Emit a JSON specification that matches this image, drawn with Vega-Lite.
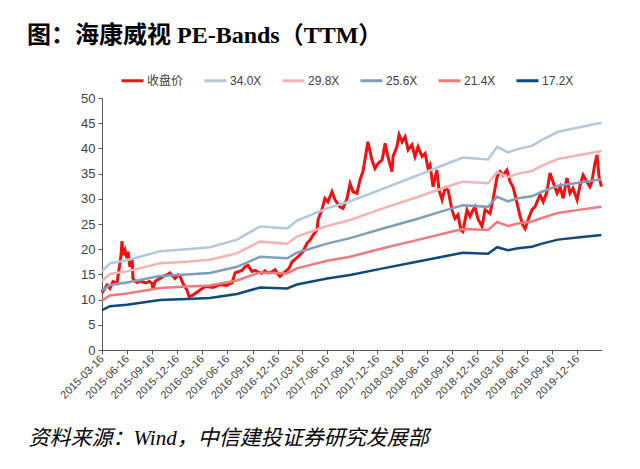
{
  "$schema": "https://vega.github.io/schema/vega-lite/v6.json",
  "width": 500,
  "height": 252,
  "autosize": {"type": "none"},
  "padding": {"left": 102, "top": 98, "right": 38, "bottom": 119},
  "background": "white",
  "title": {
    "text": "图：海康威视 PE-Bands（TTM）",
    "anchor": "start",
    "frame": "group",
    "dx": -75,
    "dy": -16,
    "fontSize": 24,
    "font": "Liberation Serif, Noto Sans CJK SC",
    "fontWeight": "bold",
    "color": "#000000"
  },
  "datasets": {
    "price": [
      {"date": "2015-03-16", "series": "收盘价", "value": 12.0},
      {"date": "2015-03-19", "series": "收盘价", "value": 11.6},
      {"date": "2015-04-03", "series": "收盘价", "value": 12.9},
      {"date": "2015-04-14", "series": "收盘价", "value": 12.2},
      {"date": "2015-04-25", "series": "收盘价", "value": 13.6},
      {"date": "2015-05-10", "series": "收盘价", "value": 13.2},
      {"date": "2015-05-13", "series": "收盘价", "value": 14.5},
      {"date": "2015-05-24", "series": "收盘价", "value": 18.5},
      {"date": "2015-05-28", "series": "收盘价", "value": 21.6},
      {"date": "2015-06-01", "series": "收盘价", "value": 18.8},
      {"date": "2015-06-08", "series": "收盘价", "value": 19.8},
      {"date": "2015-06-15", "series": "收盘价", "value": 18.2},
      {"date": "2015-06-19", "series": "收盘价", "value": 19.5},
      {"date": "2015-06-26", "series": "收盘价", "value": 16.5},
      {"date": "2015-07-04", "series": "收盘价", "value": 18.2},
      {"date": "2015-07-07", "series": "收盘价", "value": 14.2},
      {"date": "2015-07-15", "series": "收盘价", "value": 13.6},
      {"date": "2015-07-22", "series": "收盘价", "value": 13.4},
      {"date": "2015-08-02", "series": "收盘价", "value": 13.7},
      {"date": "2015-08-13", "series": "收盘价", "value": 13.5},
      {"date": "2015-08-24", "series": "收盘价", "value": 13.3},
      {"date": "2015-09-04", "series": "收盘价", "value": 13.6},
      {"date": "2015-09-15", "series": "收盘价", "value": 13.2},
      {"date": "2015-09-18", "series": "收盘价", "value": 12.0},
      {"date": "2015-09-26", "series": "收盘价", "value": 13.6},
      {"date": "2015-10-03", "series": "收盘价", "value": 13.9},
      {"date": "2015-10-14", "series": "收盘价", "value": 14.2},
      {"date": "2015-10-25", "series": "收盘价", "value": 14.6},
      {"date": "2015-11-08", "series": "收盘价", "value": 14.9},
      {"date": "2015-11-19", "series": "收盘价", "value": 15.3},
      {"date": "2015-11-27", "series": "收盘价", "value": 14.8},
      {"date": "2015-12-08", "series": "收盘价", "value": 14.2},
      {"date": "2015-12-19", "series": "收盘价", "value": 14.9},
      {"date": "2015-12-26", "series": "收盘价", "value": 14.6},
      {"date": "2016-01-06", "series": "收盘价", "value": 13.2},
      {"date": "2016-01-20", "series": "收盘价", "value": 11.9},
      {"date": "2016-01-28", "series": "收盘价", "value": 10.6},
      {"date": "2016-02-11", "series": "收盘价", "value": 10.9},
      {"date": "2016-03-01", "series": "收盘价", "value": 11.6},
      {"date": "2016-03-08", "series": "收盘价", "value": 11.9},
      {"date": "2016-03-19", "series": "收盘价", "value": 12.3},
      {"date": "2016-03-30", "series": "收盘价", "value": 12.6},
      {"date": "2016-04-13", "series": "收盘价", "value": 12.5},
      {"date": "2016-04-24", "series": "收盘价", "value": 12.4},
      {"date": "2016-05-09", "series": "收盘价", "value": 12.7},
      {"date": "2016-05-20", "series": "收盘价", "value": 13.0},
      {"date": "2016-05-31", "series": "收盘价", "value": 12.9},
      {"date": "2016-06-14", "series": "收盘价", "value": 12.8},
      {"date": "2016-06-25", "series": "收盘价", "value": 13.2},
      {"date": "2016-07-03", "series": "收盘价", "value": 13.3},
      {"date": "2016-07-14", "series": "收盘价", "value": 15.3},
      {"date": "2016-08-08", "series": "收盘价", "value": 15.8},
      {"date": "2016-08-19", "series": "收盘价", "value": 16.5},
      {"date": "2016-08-30", "series": "收盘价", "value": 16.8},
      {"date": "2016-09-06", "series": "收盘价", "value": 16.2},
      {"date": "2016-09-14", "series": "收盘价", "value": 15.6},
      {"date": "2016-09-25", "series": "收盘价", "value": 15.8},
      {"date": "2016-10-06", "series": "收盘价", "value": 15.5},
      {"date": "2016-10-20", "series": "收盘价", "value": 15.2},
      {"date": "2016-10-31", "series": "收盘价", "value": 15.7},
      {"date": "2016-11-11", "series": "收盘价", "value": 15.3},
      {"date": "2016-11-22", "series": "收盘价", "value": 15.4},
      {"date": "2016-12-07", "series": "收盘价", "value": 15.9},
      {"date": "2016-12-18", "series": "收盘价", "value": 15.0},
      {"date": "2016-12-25", "series": "收盘价", "value": 14.6},
      {"date": "2017-01-05", "series": "收盘价", "value": 15.2},
      {"date": "2017-01-12", "series": "收盘价", "value": 15.5},
      {"date": "2017-01-27", "series": "收盘价", "value": 16.2},
      {"date": "2017-02-07", "series": "收盘价", "value": 17.5},
      {"date": "2017-02-18", "series": "收盘价", "value": 18.0},
      {"date": "2017-03-01", "series": "收盘价", "value": 18.5},
      {"date": "2017-03-19", "series": "收盘价", "value": 19.5},
      {"date": "2017-04-03", "series": "收盘价", "value": 21.2},
      {"date": "2017-04-14", "series": "收盘价", "value": 21.8},
      {"date": "2017-04-25", "series": "收盘价", "value": 22.8},
      {"date": "2017-05-09", "series": "收盘价", "value": 23.8},
      {"date": "2017-05-13", "series": "收盘价", "value": 25.8},
      {"date": "2017-05-27", "series": "收盘价", "value": 27.8},
      {"date": "2017-06-07", "series": "收盘价", "value": 30.1},
      {"date": "2017-06-18", "series": "收盘价", "value": 29.4},
      {"date": "2017-07-03", "series": "收盘价", "value": 31.4},
      {"date": "2017-07-14", "series": "收盘价", "value": 29.8},
      {"date": "2017-08-01", "series": "收盘价", "value": 28.4},
      {"date": "2017-08-12", "series": "收盘价", "value": 28.1},
      {"date": "2017-08-27", "series": "收盘价", "value": 30.1},
      {"date": "2017-09-07", "series": "收盘价", "value": 33.0},
      {"date": "2017-09-18", "series": "收盘价", "value": 31.4},
      {"date": "2017-10-02", "series": "收盘价", "value": 31.1},
      {"date": "2017-10-13", "series": "收盘价", "value": 33.7},
      {"date": "2017-10-24", "series": "收盘价", "value": 35.4},
      {"date": "2017-11-08", "series": "收盘价", "value": 40.3},
      {"date": "2017-11-11", "series": "收盘价", "value": 41.3},
      {"date": "2017-11-26", "series": "收盘价", "value": 37.7},
      {"date": "2017-12-07", "series": "收盘价", "value": 36.0},
      {"date": "2017-12-18", "series": "收盘价", "value": 37.0},
      {"date": "2018-01-02", "series": "收盘价", "value": 37.7},
      {"date": "2018-01-13", "series": "收盘价", "value": 41.0},
      {"date": "2018-01-23", "series": "收盘价", "value": 38.4},
      {"date": "2018-02-07", "series": "收盘价", "value": 35.4},
      {"date": "2018-02-11", "series": "收盘价", "value": 38.4},
      {"date": "2018-02-25", "series": "收盘价", "value": 40.3},
      {"date": "2018-03-05", "series": "收盘价", "value": 42.7},
      {"date": "2018-03-16", "series": "收盘价", "value": 41.3},
      {"date": "2018-03-27", "series": "收盘价", "value": 42.3},
      {"date": "2018-04-07", "series": "收盘价", "value": 39.7},
      {"date": "2018-04-21", "series": "收盘价", "value": 40.7},
      {"date": "2018-05-02", "series": "收盘价", "value": 38.4},
      {"date": "2018-05-13", "series": "收盘价", "value": 40.3},
      {"date": "2018-05-28", "series": "收盘价", "value": 38.4},
      {"date": "2018-06-08", "series": "收盘价", "value": 39.0},
      {"date": "2018-06-19", "series": "收盘价", "value": 36.0},
      {"date": "2018-06-26", "series": "收盘价", "value": 36.7},
      {"date": "2018-07-07", "series": "收盘价", "value": 32.4},
      {"date": "2018-07-21", "series": "收盘价", "value": 35.7},
      {"date": "2018-07-29", "series": "收盘价", "value": 31.7},
      {"date": "2018-08-09", "series": "收盘价", "value": 29.8},
      {"date": "2018-08-20", "series": "收盘价", "value": 32.1},
      {"date": "2018-08-31", "series": "收盘价", "value": 31.7},
      {"date": "2018-09-14", "series": "收盘价", "value": 27.8},
      {"date": "2018-09-25", "series": "收盘价", "value": 26.1},
      {"date": "2018-10-06", "series": "收盘价", "value": 26.8},
      {"date": "2018-10-17", "series": "收盘价", "value": 23.8},
      {"date": "2018-10-24", "series": "收盘价", "value": 23.5},
      {"date": "2018-11-08", "series": "收盘价", "value": 27.8},
      {"date": "2018-11-19", "series": "收盘价", "value": 26.5},
      {"date": "2018-11-30", "series": "收盘价", "value": 27.8},
      {"date": "2018-12-07", "series": "收盘价", "value": 28.4},
      {"date": "2018-12-18", "series": "收盘价", "value": 26.0},
      {"date": "2019-01-02", "series": "收盘价", "value": 24.5},
      {"date": "2019-01-13", "series": "收盘价", "value": 27.8},
      {"date": "2019-01-31", "series": "收盘价", "value": 27.1},
      {"date": "2019-02-11", "series": "收盘价", "value": 29.8},
      {"date": "2019-02-26", "series": "收盘价", "value": 34.4},
      {"date": "2019-03-09", "series": "收盘价", "value": 35.4},
      {"date": "2019-03-19", "series": "收盘价", "value": 34.7},
      {"date": "2019-04-03", "series": "收盘价", "value": 35.7},
      {"date": "2019-04-14", "series": "收盘价", "value": 33.4},
      {"date": "2019-04-25", "series": "收盘价", "value": 32.4},
      {"date": "2019-05-10", "series": "收盘价", "value": 29.1},
      {"date": "2019-05-21", "series": "收盘价", "value": 26.5},
      {"date": "2019-05-31", "series": "收盘价", "value": 24.8},
      {"date": "2019-06-08", "series": "收盘价", "value": 24.1},
      {"date": "2019-06-19", "series": "收盘价", "value": 25.8},
      {"date": "2019-07-03", "series": "收盘价", "value": 27.8},
      {"date": "2019-07-14", "series": "收盘价", "value": 28.4},
      {"date": "2019-08-02", "series": "收盘价", "value": 30.8},
      {"date": "2019-08-13", "series": "收盘价", "value": 29.4},
      {"date": "2019-08-27", "series": "收盘价", "value": 31.4},
      {"date": "2019-09-07", "series": "收盘价", "value": 35.1},
      {"date": "2019-09-18", "series": "收盘价", "value": 33.4},
      {"date": "2019-10-03", "series": "收盘价", "value": 31.1},
      {"date": "2019-10-14", "series": "收盘价", "value": 32.4},
      {"date": "2019-10-25", "series": "收盘价", "value": 30.1},
      {"date": "2019-11-08", "series": "收盘价", "value": 34.1},
      {"date": "2019-11-19", "series": "收盘价", "value": 31.1},
      {"date": "2019-11-30", "series": "收盘价", "value": 32.1},
      {"date": "2019-12-15", "series": "收盘价", "value": 29.8},
      {"date": "2019-12-26", "series": "收盘价", "value": 32.7},
      {"date": "2020-01-06", "series": "收盘价", "value": 34.7},
      {"date": "2020-01-20", "series": "收盘价", "value": 33.4},
      {"date": "2020-01-31", "series": "收盘价", "value": 32.4},
      {"date": "2020-02-07", "series": "收盘价", "value": 33.4},
      {"date": "2020-02-18", "series": "收盘价", "value": 37.0},
      {"date": "2020-02-26", "series": "收盘价", "value": 38.7},
      {"date": "2020-03-04", "series": "收盘价", "value": 34.4},
      {"date": "2020-03-13", "series": "收盘价", "value": 32.4}
    ],
    "bands": [
      {"date": "2015-03-16", "series": "34.0X", "value": 15.6},
      {"date": "2015-04-14", "series": "34.0X", "value": 17.2},
      {"date": "2015-06-15", "series": "34.0X", "value": 17.8},
      {"date": "2015-10-14", "series": "34.0X", "value": 19.6},
      {"date": "2016-01-20", "series": "34.0X", "value": 20.0},
      {"date": "2016-04-13", "series": "34.0X", "value": 20.4},
      {"date": "2016-07-21", "series": "34.0X", "value": 21.9},
      {"date": "2016-10-13", "series": "34.0X", "value": 24.5},
      {"date": "2017-01-20", "series": "34.0X", "value": 24.1},
      {"date": "2017-02-25", "series": "34.0X", "value": 25.7},
      {"date": "2017-06-15", "series": "34.0X", "value": 28.1},
      {"date": "2017-09-07", "series": "34.0X", "value": 29.5},
      {"date": "2018-01-05", "series": "34.0X", "value": 32.0},
      {"date": "2018-05-09", "series": "34.0X", "value": 34.6},
      {"date": "2018-09-07", "series": "34.0X", "value": 37.2},
      {"date": "2018-10-24", "series": "34.0X", "value": 38.2},
      {"date": "2019-01-24", "series": "34.0X", "value": 37.8},
      {"date": "2019-02-26", "series": "34.0X", "value": 40.3},
      {"date": "2019-04-07", "series": "34.0X", "value": 39.2},
      {"date": "2019-05-13", "series": "34.0X", "value": 39.9},
      {"date": "2019-07-03", "series": "34.0X", "value": 40.5},
      {"date": "2019-08-09", "series": "34.0X", "value": 41.7},
      {"date": "2019-10-06", "series": "34.0X", "value": 43.3},
      {"date": "2020-01-02", "series": "34.0X", "value": 44.3},
      {"date": "2020-03-13", "series": "34.0X", "value": 45.1},
      {"date": "2015-03-16", "series": "29.8X", "value": 13.7},
      {"date": "2015-04-14", "series": "29.8X", "value": 15.1},
      {"date": "2015-06-15", "series": "29.8X", "value": 15.6},
      {"date": "2015-10-14", "series": "29.8X", "value": 17.2},
      {"date": "2016-01-20", "series": "29.8X", "value": 17.5},
      {"date": "2016-04-13", "series": "29.8X", "value": 17.9},
      {"date": "2016-07-21", "series": "29.8X", "value": 19.2},
      {"date": "2016-10-13", "series": "29.8X", "value": 21.5},
      {"date": "2017-01-20", "series": "29.8X", "value": 21.1},
      {"date": "2017-02-25", "series": "29.8X", "value": 22.5},
      {"date": "2017-06-15", "series": "29.8X", "value": 24.6},
      {"date": "2017-09-07", "series": "29.8X", "value": 25.8},
      {"date": "2018-01-05", "series": "29.8X", "value": 28.1},
      {"date": "2018-05-09", "series": "29.8X", "value": 30.3},
      {"date": "2018-09-07", "series": "29.8X", "value": 32.6},
      {"date": "2018-10-24", "series": "29.8X", "value": 33.4},
      {"date": "2019-01-24", "series": "29.8X", "value": 33.1},
      {"date": "2019-02-26", "series": "29.8X", "value": 35.3},
      {"date": "2019-04-07", "series": "29.8X", "value": 34.3},
      {"date": "2019-05-13", "series": "29.8X", "value": 35.0},
      {"date": "2019-07-03", "series": "29.8X", "value": 35.5},
      {"date": "2019-08-09", "series": "29.8X", "value": 36.6},
      {"date": "2019-10-06", "series": "29.8X", "value": 37.9},
      {"date": "2020-01-02", "series": "29.8X", "value": 38.8},
      {"date": "2020-03-13", "series": "29.8X", "value": 39.5},
      {"date": "2015-03-16", "series": "25.6X", "value": 11.8},
      {"date": "2015-04-14", "series": "25.6X", "value": 12.9},
      {"date": "2015-06-15", "series": "25.6X", "value": 13.4},
      {"date": "2015-10-14", "series": "25.6X", "value": 14.7},
      {"date": "2016-01-20", "series": "25.6X", "value": 15.0},
      {"date": "2016-04-13", "series": "25.6X", "value": 15.3},
      {"date": "2016-07-21", "series": "25.6X", "value": 16.5},
      {"date": "2016-10-13", "series": "25.6X", "value": 18.5},
      {"date": "2017-01-20", "series": "25.6X", "value": 18.2},
      {"date": "2017-02-25", "series": "25.6X", "value": 19.3},
      {"date": "2017-06-15", "series": "25.6X", "value": 21.1},
      {"date": "2017-09-07", "series": "25.6X", "value": 22.2},
      {"date": "2018-01-05", "series": "25.6X", "value": 24.1},
      {"date": "2018-05-09", "series": "25.6X", "value": 26.0},
      {"date": "2018-09-07", "series": "25.6X", "value": 28.0},
      {"date": "2018-10-24", "series": "25.6X", "value": 28.7},
      {"date": "2019-01-24", "series": "25.6X", "value": 28.4},
      {"date": "2019-02-26", "series": "25.6X", "value": 30.4},
      {"date": "2019-04-07", "series": "25.6X", "value": 29.5},
      {"date": "2019-05-13", "series": "25.6X", "value": 30.1},
      {"date": "2019-07-03", "series": "25.6X", "value": 30.5},
      {"date": "2019-08-09", "series": "25.6X", "value": 31.4},
      {"date": "2019-10-06", "series": "25.6X", "value": 32.6},
      {"date": "2020-01-02", "series": "25.6X", "value": 33.3},
      {"date": "2020-03-13", "series": "25.6X", "value": 33.9},
      {"date": "2015-03-16", "series": "21.4X", "value": 9.8},
      {"date": "2015-04-14", "series": "21.4X", "value": 10.8},
      {"date": "2015-06-15", "series": "21.4X", "value": 11.2},
      {"date": "2015-10-14", "series": "21.4X", "value": 12.3},
      {"date": "2016-01-20", "series": "21.4X", "value": 12.6},
      {"date": "2016-04-13", "series": "21.4X", "value": 12.8},
      {"date": "2016-07-21", "series": "21.4X", "value": 13.8},
      {"date": "2016-10-13", "series": "21.4X", "value": 15.4},
      {"date": "2017-01-20", "series": "21.4X", "value": 15.2},
      {"date": "2017-02-25", "series": "21.4X", "value": 16.2},
      {"date": "2017-06-15", "series": "21.4X", "value": 17.7},
      {"date": "2017-09-07", "series": "21.4X", "value": 18.5},
      {"date": "2018-01-05", "series": "21.4X", "value": 20.2},
      {"date": "2018-05-09", "series": "21.4X", "value": 21.8},
      {"date": "2018-09-07", "series": "21.4X", "value": 23.4},
      {"date": "2018-10-24", "series": "21.4X", "value": 24.0},
      {"date": "2019-01-24", "series": "21.4X", "value": 23.8},
      {"date": "2019-02-26", "series": "21.4X", "value": 25.4},
      {"date": "2019-04-07", "series": "21.4X", "value": 24.6},
      {"date": "2019-05-13", "series": "21.4X", "value": 25.1},
      {"date": "2019-07-03", "series": "21.4X", "value": 25.5},
      {"date": "2019-08-09", "series": "21.4X", "value": 26.2},
      {"date": "2019-10-06", "series": "21.4X", "value": 27.2},
      {"date": "2020-01-02", "series": "21.4X", "value": 27.9},
      {"date": "2020-03-13", "series": "21.4X", "value": 28.4},
      {"date": "2015-03-16", "series": "17.2X", "value": 7.9},
      {"date": "2015-04-14", "series": "17.2X", "value": 8.7},
      {"date": "2015-06-15", "series": "17.2X", "value": 9.0},
      {"date": "2015-10-14", "series": "17.2X", "value": 9.9},
      {"date": "2016-01-20", "series": "17.2X", "value": 10.1},
      {"date": "2016-04-13", "series": "17.2X", "value": 10.3},
      {"date": "2016-07-21", "series": "17.2X", "value": 11.1},
      {"date": "2016-10-13", "series": "17.2X", "value": 12.4},
      {"date": "2017-01-20", "series": "17.2X", "value": 12.2},
      {"date": "2017-02-25", "series": "17.2X", "value": 13.0},
      {"date": "2017-06-15", "series": "17.2X", "value": 14.2},
      {"date": "2017-09-07", "series": "17.2X", "value": 14.9},
      {"date": "2018-01-05", "series": "17.2X", "value": 16.2},
      {"date": "2018-05-09", "series": "17.2X", "value": 17.5},
      {"date": "2018-09-07", "series": "17.2X", "value": 18.8},
      {"date": "2018-10-24", "series": "17.2X", "value": 19.3},
      {"date": "2019-01-24", "series": "17.2X", "value": 19.1},
      {"date": "2019-02-26", "series": "17.2X", "value": 20.4},
      {"date": "2019-04-07", "series": "17.2X", "value": 19.8},
      {"date": "2019-05-13", "series": "17.2X", "value": 20.2},
      {"date": "2019-07-03", "series": "17.2X", "value": 20.5},
      {"date": "2019-08-09", "series": "17.2X", "value": 21.1},
      {"date": "2019-10-06", "series": "17.2X", "value": 21.9},
      {"date": "2020-01-02", "series": "17.2X", "value": 22.4},
      {"date": "2020-03-13", "series": "17.2X", "value": 22.8}
    ]
  },
  "encoding": {
    "x": {
      "field": "date",
      "type": "temporal",
      "scale": {
        "type": "utc",
        "domain": [
          {"year": 2015, "month": 3, "date": 16, "utc": true},
          {"year": 2020, "month": 3, "date": 15, "utc": true}
        ]
      },
      "axis": {
        "values": [
          {"year": 2015, "month": 3, "date": 16, "utc": true},
          {"year": 2015, "month": 6, "date": 16, "utc": true},
          {"year": 2015, "month": 9, "date": 16, "utc": true},
          {"year": 2015, "month": 12, "date": 16, "utc": true},
          {"year": 2016, "month": 3, "date": 16, "utc": true},
          {"year": 2016, "month": 6, "date": 16, "utc": true},
          {"year": 2016, "month": 9, "date": 16, "utc": true},
          {"year": 2016, "month": 12, "date": 16, "utc": true},
          {"year": 2017, "month": 3, "date": 16, "utc": true},
          {"year": 2017, "month": 6, "date": 16, "utc": true},
          {"year": 2017, "month": 9, "date": 16, "utc": true},
          {"year": 2017, "month": 12, "date": 16, "utc": true},
          {"year": 2018, "month": 3, "date": 16, "utc": true},
          {"year": 2018, "month": 6, "date": 16, "utc": true},
          {"year": 2018, "month": 9, "date": 16, "utc": true},
          {"year": 2018, "month": 12, "date": 16, "utc": true},
          {"year": 2019, "month": 3, "date": 16, "utc": true},
          {"year": 2019, "month": 6, "date": 16, "utc": true},
          {"year": 2019, "month": 9, "date": 16, "utc": true},
          {"year": 2019, "month": 12, "date": 16, "utc": true}
        ],
        "format": "%Y-%m-%d",
        "labelAngle": -45,
        "labelAlign": "right",
        "labelBaseline": "middle",
        "labelFont": "Liberation Sans",
        "labelFontSize": 11,
        "labelColor": "#404040",
        "labelPadding": 3,
        "labelOverlap": false,
        "tickSize": 4,
        "tickColor": "#595959",
        "domainColor": "#595959",
        "grid": false,
        "title": "资料来源：Wind，中信建投证券研究发展部",
        "titleFont": "Liberation Serif, Noto Sans CJK SC",
        "titleFontStyle": "italic",
        "titleFontWeight": "normal",
        "titleFontSize": 21,
        "titleColor": "#000000",
        "titleAnchor": "start",
        "titleAlign": "left",
        "titleBaseline": "alphabetic",
        "titleX": -74,
        "titleY": 94
      }
    },
    "y": {
      "field": "value",
      "type": "quantitative",
      "scale": {"domain": [0, 50], "nice": false},
      "axis": {
        "values": [0, 5, 10, 15, 20, 25, 30, 35, 40, 45, 50],
        "grid": false,
        "title": null,
        "labelFont": "Liberation Sans",
        "labelFontSize": 13,
        "labelColor": "#404040",
        "labelPadding": 3,
        "tickSize": 4,
        "tickColor": "#595959",
        "domainColor": "#595959"
      }
    },
    "color": {
      "field": "series",
      "type": "nominal",
      "scale": {
        "domain": ["收盘价", "34.0X", "29.8X", "25.6X", "21.4X", "17.2X"],
        "range": ["#F21010", "#B3C8DA", "#F6B3B3", "#7E9EBA", "#EE7B7B", "#0E4A7C"]
      },
      "legend": {
        "orient": "none",
        "legendX": 18,
        "legendY": -30,
        "direction": "horizontal",
        "title": null,
        "symbolType": "stroke",
        "symbolSize": 484,
        "symbolStrokeWidth": 3,
        "labelFont": "Liberation Sans, Noto Sans CJK SC",
        "labelFontSize": 12,
        "labelColor": "#404040",
        "labelOffset": 2,
        "columnPadding": 14
      }
    }
  },
  "layer": [
    {
      "data": {"name": "price"},
      "mark": {"type": "line", "strokeWidth": 3, "strokeJoin": "miter"}
    },
    {
      "data": {"name": "bands"},
      "mark": {"type": "line", "strokeWidth": 2.5}
    }
  ],
  "config": {
    "view": {"stroke": null}
  }
}
